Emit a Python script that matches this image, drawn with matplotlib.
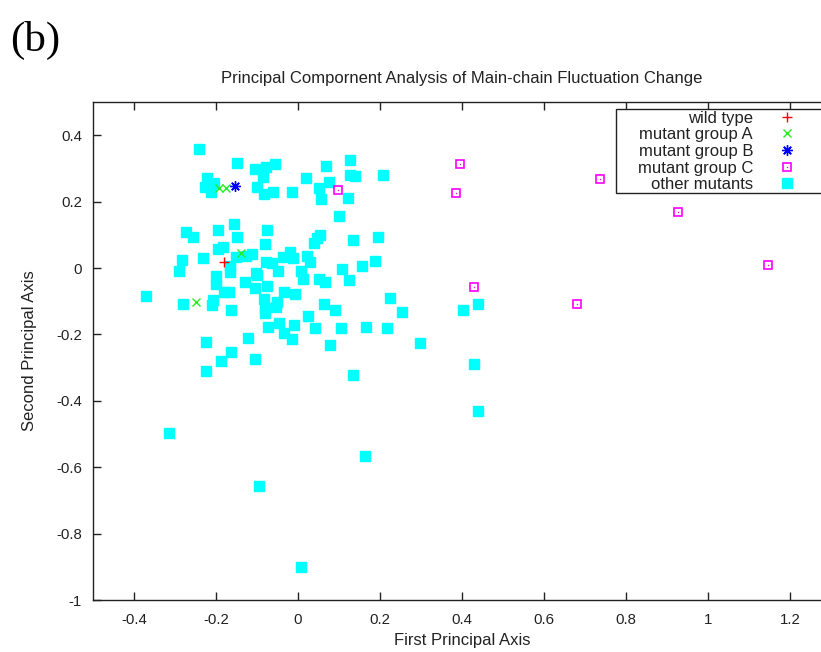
import matplotlib
matplotlib.use("Agg")
import matplotlib.pyplot as plt
from matplotlib.legend_handler import HandlerTuple
from matplotlib.patches import Rectangle

plt.rcParams['font.family'] = ['Liberation Sans', 'DejaVu Sans']

# PCA scores (first axis, second axis)
wild_x = [-0.181]
wild_y = [0.017]

group_a_x = [-0.193, -0.175, -0.140, -0.250]
group_a_y = [0.240, 0.240, 0.044, -0.102]

group_b_x = [-0.154]
group_b_y = [0.246]

group_c_x = [0.098, 0.394, 0.385, 0.430, 0.680, 0.737, 0.927, 1.147]
group_c_y = [0.236, 0.314, 0.226, -0.058, -0.108, 0.268, 0.170, 0.010]

other_x = [
    -0.242, -0.148, -0.106, -0.077, -0.056, -0.086, -0.223, -0.226, -0.206, -0.211,
    -0.099, -0.083, -0.061, -0.015, 0.020, 0.069, 0.075, 0.050, 0.055,
    0.128, 0.128, 0.139, 0.208, 0.123, 0.101, 0.133, 0.196, 0.107, 0.155, 0.188, 0.125,
    0.225, 0.254, 0.090, 0.104, 0.166, 0.217, 0.297, 0.077, 0.135, 0.163,
    0.403, 0.439, 0.429, 0.439,
    -0.156, -0.274, -0.257, -0.196, -0.150, -0.075, -0.081, -0.196, -0.183,
    0.054, 0.047, 0.040, -0.111, -0.128, -0.152, -0.231, -0.283, -0.291,
    -0.165, -0.167, -0.199, -0.077, -0.063, -0.049, -0.036, -0.019, -0.012,
    0.023, 0.029, 0.008, 0.011, 0.051, 0.066, -0.103, -0.099, -0.129, -0.106,
    -0.075, -0.201, -0.034, -0.007, -0.181, -0.169, -0.371,
    -0.280, -0.207, -0.210, -0.163, -0.083, -0.052, -0.053, -0.081, -0.081,
    0.024, 0.064, -0.072, -0.046, -0.009, -0.035, -0.015, 0.041, -0.122,
    -0.225, -0.163, -0.188, -0.105, -0.224, -0.315, -0.095, 0.008,
]
other_y = [
    0.358, 0.317, 0.299, 0.303, 0.313, 0.275, 0.270, 0.243, 0.255, 0.228,
    0.243, 0.222, 0.228, 0.230, 0.271, 0.307, 0.260, 0.240, 0.208,
    0.324, 0.280, 0.278, 0.280, 0.211, 0.156, 0.085, 0.092, -0.003, 0.005, 0.020, -0.036,
    -0.091, -0.133, -0.125, -0.182, -0.178, -0.180, -0.227, -0.232, -0.323, -0.565,
    -0.125, -0.107, -0.290, -0.432,
    0.133, 0.107, 0.092, 0.114, 0.092, 0.114, 0.071, 0.057, 0.062,
    0.099, 0.089, 0.074, 0.042, 0.035, 0.034, 0.031, 0.023, -0.009,
    0.005, -0.011, -0.024, 0.018, 0.014, -0.008, 0.034, 0.047, 0.029,
    0.036, 0.019, -0.008, -0.032, -0.032, -0.043, -0.014, -0.022, -0.043, -0.059,
    -0.053, -0.049, -0.073, -0.079, -0.071, -0.073, -0.083,
    -0.107, -0.096, -0.111, -0.127, -0.093, -0.101, -0.116, -0.121, -0.136,
    -0.146, -0.107, -0.178, -0.167, -0.171, -0.196, -0.213, -0.182, -0.210,
    -0.222, -0.254, -0.279, -0.273, -0.310, -0.497, -0.656, -0.901,
]

x_ticks = [-0.4, -0.2, 0, 0.2, 0.4, 0.6, 0.8, 1, 1.2]
x_tick_labels = ['-0.4', '-0.2', '0', '0.2', '0.4', '0.6', '0.8', '1', '1.2']
y_ticks = [0.4, 0.2, 0, -0.2, -0.4, -0.6, -0.8, -1]
y_tick_labels = ['0.4', '0.2', '0', '-0.2', '-0.4', '-0.6', '-0.8', '-1']

W, H = 821, 652
fig = plt.figure(figsize=(W / 100, H / 100), dpi=100)
ax = fig.add_axes([93 / W, 52 / H, 738 / W, 498 / H])

ink = '#222222'

other_h, = ax.plot(other_x, other_y, ls='none', marker='s', ms=6.6,
                   color='#00ffff', mec='#00ffff')
wild_h, = ax.plot(wild_x, wild_y, ls='none', marker='+', ms=7.5, mew=1,
                  color='#ff0000')
a_h, = ax.plot(group_a_x, group_a_y, ls='none', marker='x', ms=6.2, mew=1,
               color='#22ee22')
b_h, = ax.plot(group_b_x, group_b_y, ls='none', marker=(8, 2, 0), ms=7.5, mew=1,
               color='#0000ff')
c_box, = ax.plot(group_c_x, group_c_y, ls='none', marker='s', ms=6.2, mew=1.2,
                 mfc='none', mec='#ff00ff')
c_dot, = ax.plot(group_c_x, group_c_y, ls='none', marker='s', ms=0.9, mew=0,
                 color='#ff00ff')

ax.set_xlim(-0.5, 1.3)
ax.set_ylim(-1, 0.5)
ax.set_xticks(x_ticks)
ax.set_xticklabels(x_tick_labels)
ax.set_yticks(y_ticks)
ax.set_yticklabels(y_tick_labels)
ax.tick_params(direction='in', length=6, width=1, labelsize=10.8, colors=ink,
               top=True, right=True)
ax.tick_params(axis='x', pad=9)
ax.tick_params(axis='y', pad=8)
for sp in ax.spines.values():
    sp.set_linewidth(1)
    sp.set_color(ink)

ax.set_title('Principal Compornent Analysis of Main-chain Fluctuation Change',
             fontsize=12, color=ink, pad=13.5)
ax.set_xlabel('First Principal Axis', fontsize=12, color=ink, labelpad=5)
ax.set_ylabel('Second Principal Axis', fontsize=12, color=ink, labelpad=14)

# key box (runs past the right edge of the figure)
box = Rectangle((616 / W, 1 - 192.7 / H), 240 / W, 83.4 / H,
                transform=fig.transFigure, facecolor='white', edgecolor=ink,
                linewidth=1, zorder=4, clip_on=False)
ax.add_patch(box)

leg = ax.legend([wild_h, a_h, b_h, (c_box, c_dot), other_h],
                ['wild type', 'mutant group A', 'mutant group B',
                 'mutant group C', 'other mutants'],
                handler_map={tuple: HandlerTuple(ndivide=1, pad=0)},
                loc='upper right',
                bbox_to_anchor=((803 - 93) / 738, (600 - 107.3) / 498),
                markerfirst=False, frameon=False,
                fontsize=12, handlelength=1.5, handletextpad=1.3,
                labelspacing=0.1, borderpad=0.2, borderaxespad=0)
leg.set_zorder(6)
for col in leg._legend_handle_box.get_children():
    col.align = 'right'
for t in leg.get_texts():
    t.set_color(ink)

fig.text(10 / W, 1 - 51 / H, '(b)', fontsize=31, family='Liberation Serif',
         color='black', va='baseline')

fig.savefig('out.png', dpi=100)
